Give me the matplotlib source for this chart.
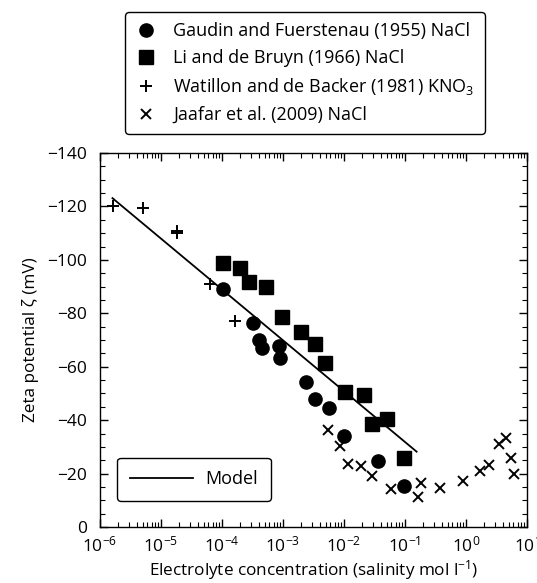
import matplotlib
matplotlib.use("Agg")
import matplotlib.pyplot as plt
from matplotlib.lines import Line2D
from matplotlib.ticker import MultipleLocator, LogLocator, NullFormatter
import numpy as np

plt.rcParams['font.family'] = ['Open Sans', 'DejaVu Sans']
plt.rcParams['mathtext.fontset'] = 'custom'
plt.rcParams['mathtext.rm'] = 'Open Sans'
plt.rcParams['mathtext.it'] = 'Open Sans:italic'

# Gaudin and Fuerstenau (1955) NaCl
gaudin_c = [1.02e-4, 3.2e-4, 4.1e-4, 4.5e-4, 8.5e-4, 8.9e-4, 2.4e-3, 3.35e-3, 5.75e-3, 1.0e-2, 3.65e-2, 9.8e-2]
gaudin_z = [-89.0, -76.3, -70.0, -66.9, -67.8, -63.4, -54.4, -47.8, -44.7, -34.1, -24.8, -15.5]

# Li and de Bruyn (1966) NaCl
li_c = [1.05e-4, 2.0e-4, 2.8e-4, 5.3e-4, 9.8e-4, 2.0e-3, 3.35e-3, 4.9e-3, 1.05e-2, 2.1e-2, 2.9e-2, 5.1e-2, 9.8e-2]
li_z = [-98.9, -97.1, -91.8, -90.0, -78.7, -73.1, -68.5, -61.5, -50.7, -49.4, -38.6, -40.3, -25.9]

# Watillon and de Backer (1981) KNO3
wat_c = [1.65e-6, 5.1e-6, 1.8e-5, 1.85e-5, 6.3e-5, 1.63e-4]
wat_z = [-120.3, -119.3, -110.2, -110.8, -91.0, -77.1]

# Jaafar et al. (2009) NaCl
jaa_c = [5.4e-3, 8.5e-3, 1.17e-2, 1.87e-2, 2.9e-2, 5.9e-2, 0.18, 0.165, 0.375, 0.9, 1.7, 2.4, 3.5, 4.5, 5.4, 6.1]
jaa_z = [-36.3, -30.3, -23.5, -22.8, -19.2, -14.2, -16.6, -11.3, -14.5, -17.3, -21.0, -23.2, -31.1, -33.2, -25.7, -19.8]

# Model
model_c = [1.6e-6, 0.155]
model_z = [-123.1, -28.2]

labels = ['Gaudin and Fuerstenau (1955) NaCl',
          'Li and de Bruyn (1966) NaCl',
          'Watillon and de Backer (1981) KNO$_3$',
          'Jaafar et al. (2009) NaCl']

yticks = [0, -20, -40, -60, -80, -100, -120, -140]

fig = plt.figure(figsize=(5.37, 5.83), dpi=100)
ax = fig.add_axes([100/537, 1-527/583, 427/537, 374/583])

ax.plot(model_c, model_z, color='black', lw=1.3, label='Model')
ax.plot(gaudin_c, gaudin_z, 'o', color='black', ms=9.5, ls='none')
ax.plot(li_c, li_z, 's', color='black', ms=9.5, ls='none')
ax.plot(wat_c, wat_z, '+', color='black', ms=9, mew=1.4, ls='none')
ax.plot(jaa_c, jaa_z, 'x', color='black', ms=7.5, mew=1.4, ls='none')

ax.set_xscale('log')
ax.set_xlim(1e-6, 10)
ax.set_ylim(0, -140)
ax.yaxis.set_minor_locator(MultipleLocator(5))
ax.xaxis.set_major_locator(LogLocator(base=10, numticks=20))
ax.xaxis.set_minor_locator(LogLocator(base=10, subs=np.arange(2, 10), numticks=100))
ax.xaxis.set_minor_formatter(NullFormatter())
ax.set_yticks(yticks)
ax.set_yticklabels([('\u2212%d' % abs(v)) if v != 0 else '0' for v in yticks])

ax.tick_params(which='both', direction='in', top=True, right=True, labelsize=12.5, color='black')
ax.tick_params(which='major', length=6, width=1)
ax.tick_params(which='minor', length=3.5, width=0.8)
ax.tick_params(axis='x', pad=6)
ax.tick_params(axis='y', pad=9)
for s in ax.spines.values():
    s.set_linewidth(1.0)

ax.set_xlabel('Electrolyte concentration (salinity mol l$^{-1}$)', fontsize=12.3, labelpad=2)
ax.set_ylabel('Zeta potential \u03b6 (mV)', fontsize=12.3, labelpad=6)

# Model legend
leg2 = ax.legend(loc='lower left', bbox_to_anchor=(0.04, 0.07), fontsize=13,
                 frameon=True, fancybox=True, edgecolor='black', handlelength=3.5,
                 borderpad=0.7, handletextpad=0.7, borderaxespad=0)
leg2.get_frame().set_linewidth(1.0)
leg2.get_frame().set_alpha(1)

handles = [Line2D([], [], marker='o', color='black', ls='none', ms=9.5),
           Line2D([], [], marker='s', color='black', ls='none', ms=9.5),
           Line2D([], [], marker='+', color='black', ls='none', ms=9, mew=1.4),
           Line2D([], [], marker='x', color='black', ls='none', ms=7.5, mew=1.4)]
leg1 = fig.legend(handles, labels, loc='upper center', bbox_to_anchor=(305/537, 1-12/583),
                  fontsize=13, frameon=True, fancybox=True, edgecolor='black',
                  handlelength=1.2, handletextpad=0.9, labelspacing=0.5, borderpad=0.55,
                  borderaxespad=0)
leg1.get_frame().set_linewidth(1.0)
leg1.get_frame().set_alpha(1)

fig.savefig('out.png', dpi=100)
